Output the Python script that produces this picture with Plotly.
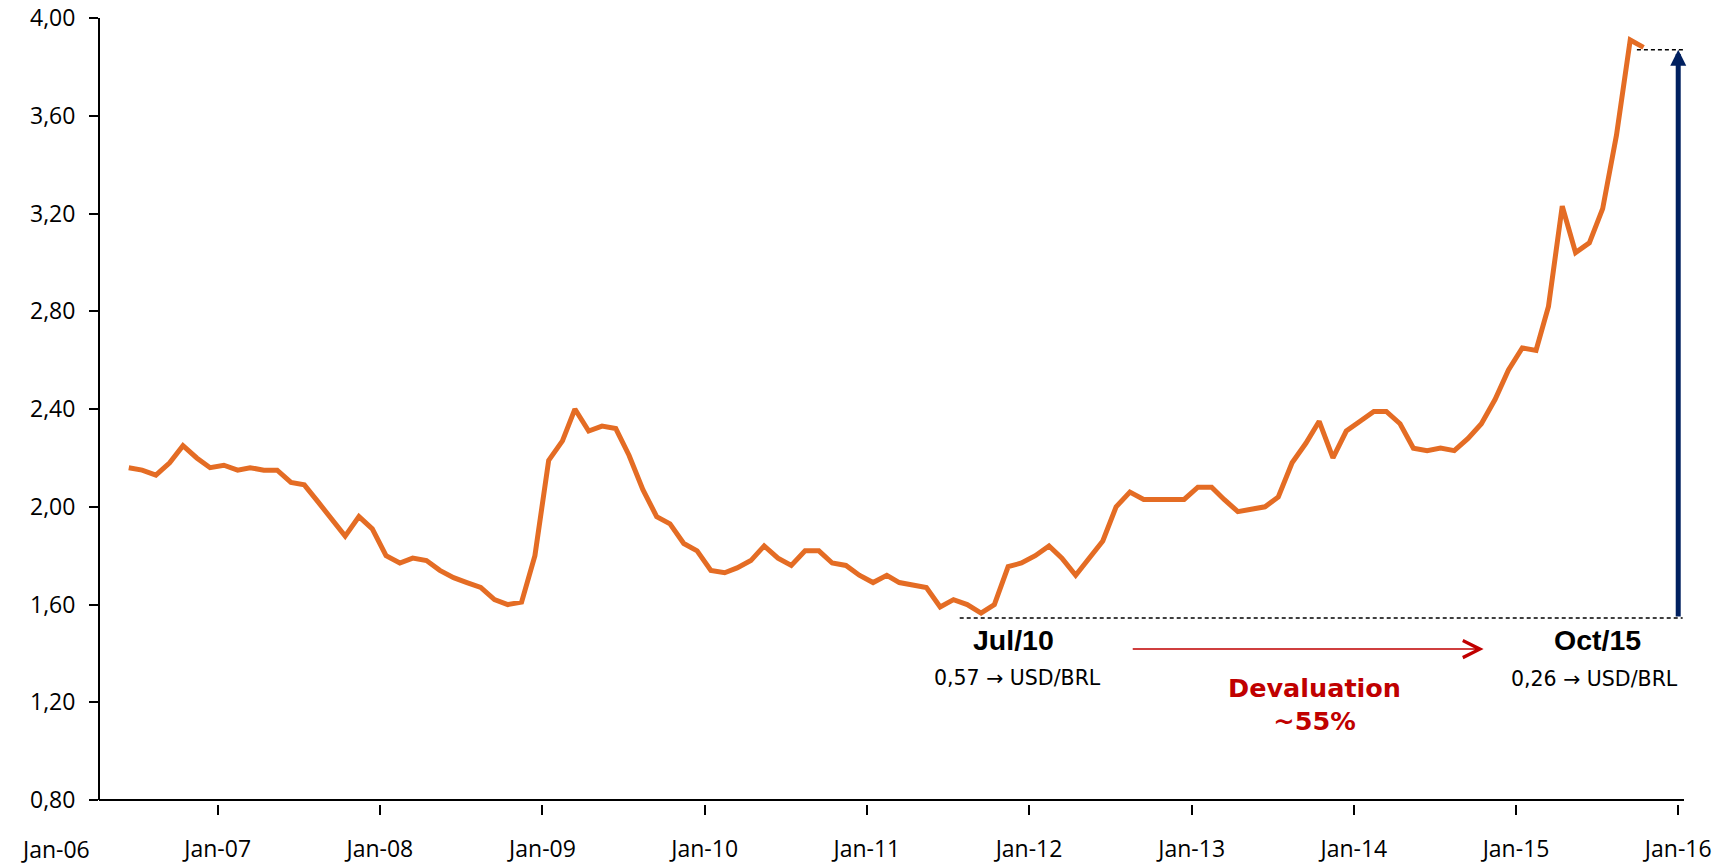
"""
usd_brl_chart.py
----------------
USD/BRL monthly exchange rate 2006-2015 with the devaluation callout.
"""

import pandas as pd
import plotly.graph_objects as go


# ── Data: monthly USD/BRL, one list per year (Jun-06 .. Oct-15) ────────────
RATE_2006 = [2.16, 2.15, 2.13, 2.18, 2.25, 2.20, 2.16]
RATE_2007 = [2.17, 2.15, 2.16, 2.15, 2.15, 2.10, 2.09, 2.02, 1.95, 1.88, 1.96, 1.91]
RATE_2008 = [1.80, 1.77, 1.79, 1.78, 1.74, 1.71, 1.69, 1.67, 1.62, 1.60, 1.61, 1.80]
RATE_2009 = [2.19, 2.27, 2.40, 2.31, 2.33, 2.32, 2.21, 2.07, 1.96, 1.93, 1.85, 1.82]
RATE_2010 = [1.74, 1.73, 1.75, 1.78, 1.84, 1.79, 1.76, 1.82, 1.82, 1.77, 1.76, 1.72]
RATE_2011 = [1.69, 1.72, 1.69, 1.68, 1.67, 1.59, 1.62, 1.60, 1.565, 1.60, 1.755, 1.77]
RATE_2012 = [1.80, 1.84, 1.79, 1.72, 1.79, 1.86, 2.00, 2.06, 2.03, 2.03, 2.03, 2.03]
RATE_2013 = [2.08, 2.08, 2.03, 1.98, 1.99, 2.00, 2.04, 2.18, 2.26, 2.35, 2.20, 2.31]
RATE_2014 = [2.35, 2.39, 2.39, 2.34, 2.24, 2.23, 2.24, 2.23, 2.28, 2.34, 2.44, 2.56]
RATE_2015 = [2.65, 2.64, 2.82, 3.23, 3.04, 3.08, 3.22, 3.52, 3.91, 3.88]
FIRST_MONTH = "2006-06-01"

# ── Axes ────────────────────────────────────────────────────────────────────
Y_TICKS = [0.80, 1.20, 1.60, 2.00, 2.40, 2.80, 3.20, 3.60, 4.00]
Y_LABELS = ["0,80", "1,20", "1,60", "2,00", "2,40", "2,80", "3,20", "3,60", "4,00"]
X_TICKS = ["2007-01-01", "2008-01-01", "2009-01-01", "2010-01-01", "2011-01-01",
           "2012-01-01", "2013-01-01", "2014-01-01", "2015-01-01", "2016-01-01"]
X_LABELS = ["Jan-07", "Jan-08", "Jan-09", "Jan-10", "Jan-11",
            "Jan-12", "Jan-13", "Jan-14", "Jan-15", "Jan-16"]
FIRST_LABEL = ("2006-01-01", "Jan-06")
X_RANGE = ["2006-04-09", "2016-01-14"]
Y_RANGE = [0.784, 4.00]

# ── Callout levels / texts ─────────────────────────────────────────────────
LOW_LEVEL = 1.545
HIGH_LEVEL = 3.87
START_TAG, START_NOTE = "Jul/10", "0,57 → USD/BRL"
END_TAG, END_NOTE = "Oct/15", "0,26 → USD/BRL"
DEVAL_TEXT = "Devaluation<br>~55%"

# ── Colours ─────────────────────────────────────────────────────────────────
ORANGE = "#E46C24"
RED = "#C00000"
NAVY = "#002060"
TICK_FONT = dict(family="Open Sans", size=23, color="black")

rates = (RATE_2006 + RATE_2007 + RATE_2008 + RATE_2009 + RATE_2010
         + RATE_2011 + RATE_2012 + RATE_2013 + RATE_2014 + RATE_2015)
months = pd.date_range(FIRST_MONTH, periods=len(rates), freq="MS") + pd.Timedelta(days=14)

fig = go.Figure()
fig.add_trace(go.Scatter(
    x=months, y=rates, mode="lines",
    line=dict(color=ORANGE, width=5),
    hoverinfo="skip",
))

# axis lines drawn by hand so the x ticks sit slightly below the baseline
fig.add_shape(type="line", xref="paper", yref="y", x0=0, x1=1, y0=0.80, y1=0.80,
              line=dict(color="black", width=2))
fig.add_shape(type="line", xref="paper", yref="y", x0=0, x1=0, y0=0.80, y1=4.00,
              line=dict(color="black", width=2))

# dashed reference levels
fig.add_shape(type="line", x0="2011-07-29", x1="2016-01-11", y0=LOW_LEVEL, y1=LOW_LEVEL,
              line=dict(color="black", width=1.3, dash="4px,3px"))
fig.add_shape(type="line", x0="2015-09-30", x1="2016-01-18", y0=HIGH_LEVEL, y1=HIGH_LEVEL,
              line=dict(color="black", width=1.3, dash="4px,3px"))

# navy vertical arrow (low -> high)
fig.add_annotation(x="2016-01-01", y=HIGH_LEVEL, ax="2016-01-01", ay=LOW_LEVEL,
                   xref="x", yref="y", axref="x", ayref="y", text="",
                   showarrow=True, arrowhead=2, arrowsize=0.64, arrowwidth=5,
                   arrowcolor=NAVY)

# red horizontal arrow
fig.add_annotation(x="2014-10-20", y=1.418, ax="2012-08-18", ay=1.418,
                   xref="x", yref="y", axref="x", ayref="y", text="",
                   showarrow=True, arrowhead=5, arrowsize=2.1, arrowwidth=1.6,
                   arrowcolor=RED)

bold_font = dict(family="Liberation Sans, Arial", size=28.5, color="black", weight="bold")
note_font = dict(family="DejaVu Sans", size=20.5, color="black")
fig.add_annotation(x="2011-11-28", y=1.455, text=START_TAG, showarrow=False, font=bold_font)
fig.add_annotation(x="2011-12-07", y=1.300, text=START_NOTE, showarrow=False, font=note_font)
fig.add_annotation(x="2015-07-04", y=1.455, text=END_TAG, showarrow=False, font=bold_font)
fig.add_annotation(x="2015-06-27", y=1.296, text=END_NOTE, showarrow=False, font=note_font)
fig.add_annotation(x="2013-10-05", y=1.193, text=DEVAL_TEXT, showarrow=False,
                   font=dict(family="DejaVu Sans", size=25.5, color=RED, weight="bold"))

# the first year label sits left of the plot, outside the axis range
x0, x1 = (pd.Timestamp(d) for d in X_RANGE)
first_frac = (pd.Timestamp(FIRST_LABEL[0]) - x0) / (x1 - x0)
fig.add_annotation(x=first_frac, y=-0.0575, xref="paper", yref="paper",
                   text=FIRST_LABEL[1], showarrow=False, font=TICK_FONT,
                   xanchor="center", yanchor="middle")

fig.update_xaxes(
    type="date", range=X_RANGE, tickvals=X_TICKS, ticktext=X_LABELS,
    ticks="outside", ticklen=10, tickwidth=2, tickcolor="black",
    showline=False, showgrid=False, zeroline=False, automargin=False,
    tickfont=TICK_FONT, ticklabelstandoff=14,
)
fig.update_yaxes(
    range=Y_RANGE, tickvals=Y_TICKS, ticktext=Y_LABELS,
    ticks="outside", ticklen=9, tickwidth=2, tickcolor="black",
    showline=False, showgrid=False, zeroline=False, automargin=False,
    tickfont=TICK_FONT, ticklabelstandoff=9,
)
fig.update_layout(
    width=1722, height=865,
    margin=dict(l=99, r=38, t=18, b=61),
    plot_bgcolor="white", paper_bgcolor="white",
    showlegend=False,
)

fig.write_html("out.html", config={"displayModeBar": False},
               post_script="document.body.style.margin='0';"
                           "document.body.style.overflow='hidden';")
